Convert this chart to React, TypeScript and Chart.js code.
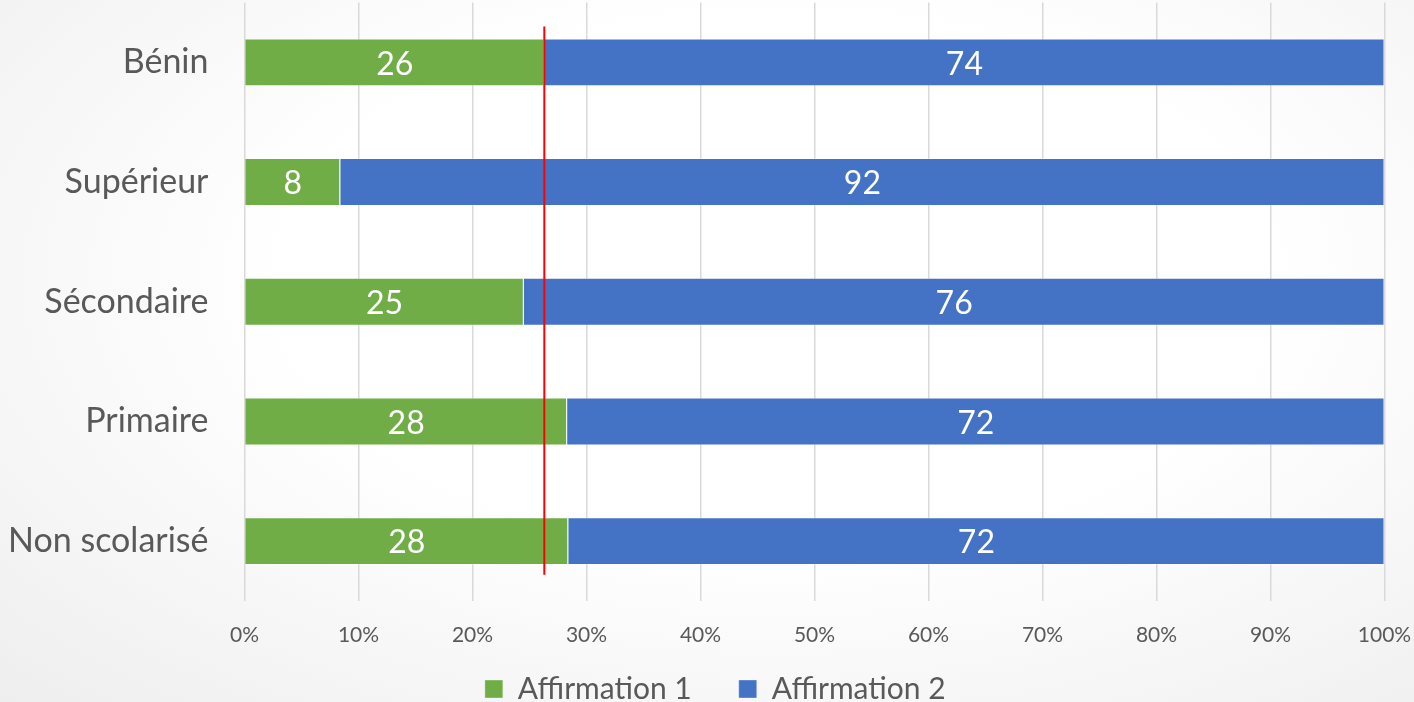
import React, { useEffect, useRef } from "react";
import { Chart, registerables } from "chart.js";

Chart.register(...registerables);

const categories = ["Bénin", "Supérieur", "Sécondaire", "Primaire", "Non scolarisé"];
const affirmation1 = [26.3, 8.4, 24.5, 28.3, 28.4];
const affirmation2 = [73.7, 91.6, 75.5, 71.7, 71.6];
const seriesNames = ["Affirmation 1", "Affirmation 2"];
const xTicks = [0, 10, 20, 30, 40, 50, 60, 70, 80, 90, 100];
const referenceValue = affirmation1[0];

const FONT = "Lato, 'Open Sans', sans-serif";

const dataLabelPlugin = {
  id: "dataLabels",
  afterDatasetsDraw(chart: any) {
    const ctx = chart.ctx;
    ctx.save();
    ctx.fillStyle = "#ffffff";
    ctx.font = `32px ${FONT}`;
    ctx.textAlign = "center";
    ctx.textBaseline = "middle";
    chart.data.datasets.forEach((ds: any, di: number) => {
      const meta = chart.getDatasetMeta(di);
      meta.data.forEach((bar: any, i: number) => {
        const v = ds.data[i];
        const cx = (bar.x + bar.base) / 2;
        ctx.fillText(String(Math.round(v)), cx, bar.y + 2);
      });
    });
    ctx.restore();
  },
};

const refLinePlugin = {
  id: "refLine",
  afterDatasetsDraw(chart: any) {
    const x = chart.scales.x.getPixelForValue(referenceValue);
    const y = chart.scales.y;
    const top = y.getPixelForValue(-0.3);
    const bottom = y.getPixelForValue(4.28);
    const ctx = chart.ctx;
    ctx.save();
    ctx.strokeStyle = "#ff0000";
    ctx.lineWidth = 2;
    ctx.beginPath();
    ctx.moveTo(x, top);
    ctx.lineTo(x, bottom);
    ctx.stroke();
    ctx.restore();
  },
};

// let x-axis tick labels extend below the compact axis box, and nudge the legend
const layoutTweakPlugin = {
  id: "layoutTweak",
  afterLayout(chart: any) {
    const sx = chart.scales.x;
    sx.bottom = sx.top + 60;
    if (chart.legend) {
      chart.legend.left += 23;
      chart.legend.right += 23;
    }
  },
};

export default function App() {
  const ref = useRef<HTMLCanvasElement>(null);
  useEffect(() => {
    if (!ref.current) return;
    const chart = new Chart(ref.current, {
      type: "bar",
      data: {
        labels: categories,
        datasets: [
          {
            label: seriesNames[0],
            data: affirmation1,
            backgroundColor: "#70AD47",
            borderColor: "rgba(255,255,255,0.35)",
            borderWidth: 1,
            barPercentage: 0.4,
            categoryPercentage: 1,
          },
          {
            label: seriesNames[1],
            data: affirmation2,
            backgroundColor: "#4472C4",
            borderColor: "rgba(255,255,255,0.35)",
            borderWidth: 1,
            barPercentage: 0.4,
            categoryPercentage: 1,
          },
        ],
      },
      options: {
        indexAxis: "y",
        animation: false,
        responsive: true,
        maintainAspectRatio: false,
        layout: { padding: { left: 0, right: 29.5, top: 2.5, bottom: -12 } },
        scales: {
          x: {
            stacked: true,
            min: 0,
            max: 100,
            afterBuildTicks: (s: any) => {
              s.ticks = xTicks.map((v) => ({ value: v }));
            },
            afterFit: (s: any) => {
              s.height = 26;
              s.paddingLeft = 0;
              s.paddingRight = 0;
            },
            border: { display: false },
            grid: { color: "#d9d9d9", lineWidth: 1.5, drawTicks: false },
            ticks: {
              padding: 22,
              color: "#595959",
              font: { family: FONT, size: 21 },
              callback: (v: any) => `${v}%`,
            },
          },
          y: {
            stacked: true,
            afterFit: (s: any) => {
              s.width = 244.5;
              s.paddingTop = 0;
              s.paddingBottom = 0;
            },
            border: { display: false },
            grid: { display: false, drawTicks: false },
            ticks: {
              padding: 36,
              color: "#595959",
              font: { family: FONT, size: 34 },
            },
          },
        },
        plugins: {
          legend: {
            position: "bottom",
            labels: {
              color: "#595959",
              font: { family: FONT, size: 30 },
              boxWidth: 18,
              boxHeight: 18,
              padding: 47,
            },
          },
          tooltip: { enabled: false },
        },
      },
      plugins: [dataLabelPlugin, refLinePlugin, layoutTweakPlugin],
    });
    return () => chart.destroy();
  }, []);

  return (
    <div
      style={{
        position: "fixed",
        left: 0,
        top: 0,
        width: 1414,
        height: 702,
        background: "radial-gradient(ellipse at 55% 40%, #ffffff 45%, #eeeeee 100%)",
      }}
    >
      <canvas ref={ref} />
    </div>
  );
}
